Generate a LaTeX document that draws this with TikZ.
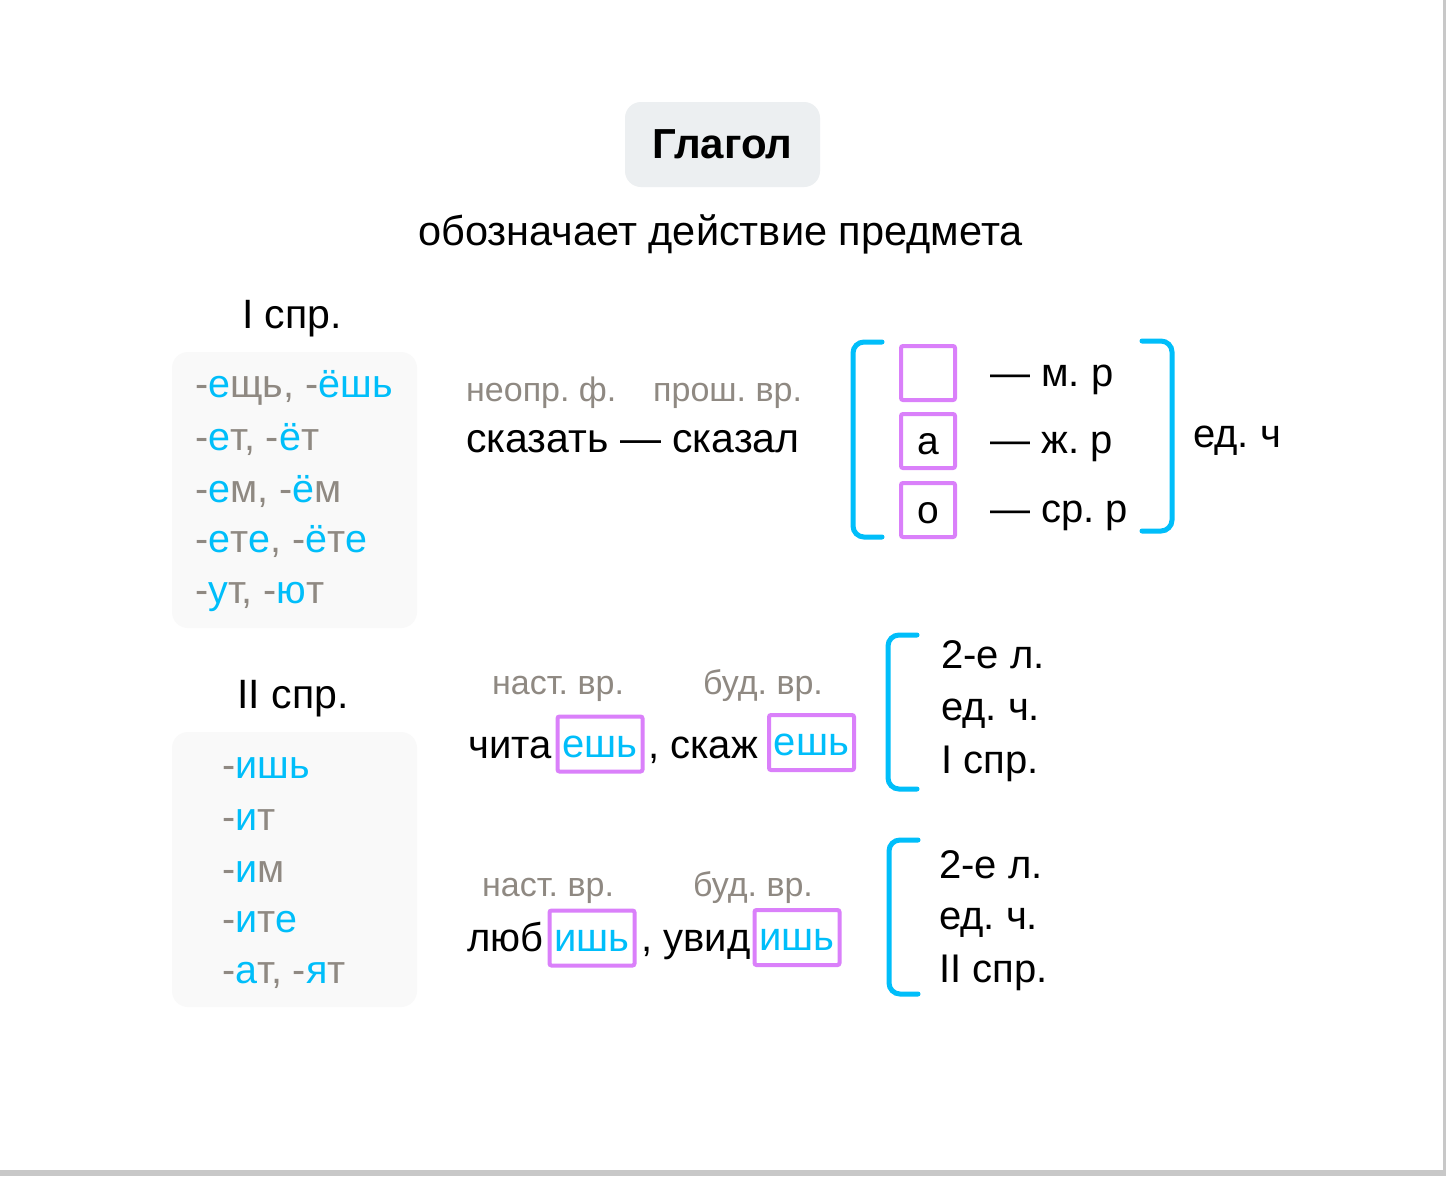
\documentclass[tikz,border=0pt]{standalone}
\usepackage{fontspec}
\setmainfont{Liberation Sans}
\AtBeginDocument{\frenchspacing}
\definecolor{cblue}{HTML}{00BEFA}
\definecolor{cgray}{HTML}{8F8982}
\definecolor{cmag}{HTML}{DA80FA}
\definecolor{titlebg}{HTML}{ECEFF1}
\definecolor{listbg}{HTML}{F9F9F9}
\definecolor{framegray}{HTML}{C8C8C8}
\newcommand{\cB}[1]{\textcolor{cblue}{#1}}
\newcommand{\cG}[1]{\textcolor{cgray}{#1}}
\newcommand{\lowr}[1]{\raisebox{-3pt}{#1}}
\tikzset{
  txt/.style={inner sep=0pt, anchor=mid west, font=\fontsize{40}{46}\selectfont},
  ctxt/.style={inner sep=0pt, anchor=mid, font=\fontsize{41}{46}\selectfont},
  small/.style={inner sep=0pt, anchor=mid west, text=cgray, font=\fontsize{34}{38}\selectfont},
  listline/.style={inner sep=0pt, anchor=mid west, text=cgray, font=\fontsize{39.5}{44}\selectfont},
  brk/.style={draw=cblue, line width=5pt, line cap=round, rounded corners=11pt},
  magbox/.style={draw=cmag, line width=4pt, rounded corners=2pt, inner sep=0pt, text height=20pt, text depth=0pt},
  endbox/.style={magbox, minimum width=85pt, minimum height=55pt, text=cblue, font=\fontsize{40}{46}\selectfont},
}
\begin{document}
\begin{tikzpicture}[x=1pt,y=-1pt]
\fill[white] (0,0) rectangle (1446,1176);
\useasboundingbox (0,0) rectangle (1446,1176);
\fill[framegray] (1443,0) rectangle (1446,1176);
\fill[framegray] (0,1170) rectangle (1446,1176);

% title
\node[fill=titlebg, rounded corners=16pt, minimum width=195pt, minimum height=85pt, inner sep=0pt,
      font=\fontsize{42}{46}\selectfont\bfseries] (title) at (722.5,144.5) {Глагол};
\node[ctxt, font=\fontsize{41.5}{46}\selectfont] (subtitle) at (720.5,243) {обозначает действие предмета};

% I conjugation
\node[ctxt] (conj1) at (292,326) {I спр.};
\node[fill=listbg, rounded corners=16pt, minimum width=245pt, minimum height=276pt, inner sep=0pt] (list1) at (294.5,490) {};
\node[listline] (l1a) at (195,395) {-\cB{е}щь, -\cB{ёшь}};
\node[listline] (l1b) at (195,448) {-\cB{е}т, -\cB{ё}т};
\node[listline] (l1c) at (195,500) {-\cB{е}м, -\cB{ё}м};
\node[listline] (l1d) at (195,550) {-\cB{е}т\cB{е}, -\cB{ё}т\cB{е}};
\node[listline] (l1e) at (195,601) {-\cB{у}т, -\cB{ю}т};

% II conjugation
\node[ctxt] (conj2) at (293,706) {II спр.};
\node[fill=listbg, rounded corners=16pt, minimum width=245pt, minimum height=275pt, inner sep=0pt] (list2) at (294.5,869.5) {};
\node[listline] (l2a) at (222,776) {-\cB{ишь}};
\node[listline] (l2b) at (222,828) {-\cB{и}т};
\node[listline] (l2c) at (222,880) {-\cB{и}м};
\node[listline] (l2d) at (222,930) {-\cB{и}т\cB{е}};
\node[listline] (l2e) at (222,981) {-\cB{а}т, -\cB{я}т};

% row 1 middle
\node[small] (neopr) at (466,399) {неопр. ф.};
\node[small] (prosh) at (653,399) {прош. вр.};
\node[txt, font=\fontsize{41}{46}\selectfont] (skazat) at (466,450) {сказать — сказал};

% gender bracket
\draw[brk] (882,342) -| (853,537) -- (882,537);
\node[magbox, minimum width=54pt, minimum height=54pt] (bm) at (928,373) {};
\node[magbox, minimum width=54pt, minimum height=54pt, font=\fontsize{39}{44}\selectfont] (ba) at (928,441) {\lowr{а}};
\node[magbox, minimum width=54pt, minimum height=54pt, font=\fontsize{39}{44}\selectfont] (bo) at (928,510) {\lowr{о}};
\node[txt] (gm) at (990,384) {— м. р};
\node[txt] (gf) at (990,451) {— ж. р};
\node[txt] (gn) at (990,520) {— ср. р};
\draw[brk] (1142,341) -| (1172,531) -- (1142,531);
\node[txt] (edch) at (1193,445) {ед. ч};

% row 2 middle
\node[small] (nast1) at (492,692) {наст. вр.};
\node[small] (bud1) at (703,692) {буд. вр.};
\node[txt] (chita) at (468,756) {чита};
\node[endbox] (e1) at (600,744) {\lowr{ешь}};
\node[txt] (skazh) at (648,756) {, скаж};
\node[endbox] (e2) at (811.5,742.5) {\lowr{ешь}};
\draw[brk] (917,635) -| (888,789) -- (917,789);
\node[txt] (r2a) at (941,666) {2-е л.};
\node[txt] (r2b) at (941,718) {ед. ч.};
\node[txt] (r2c) at (941,771) {I спр.};

% row 3 middle
\node[small] (nast2) at (482,894) {наст. вр.};
\node[small] (bud2) at (693,894) {буд. вр.};
\node[txt] (lyub) at (467,949) {люб};
\node[endbox] (i1) at (592,938) {\lowr{ишь}};
\node[txt] (uvid) at (641,949) {, увид};
\node[endbox] (i2) at (797,937.5) {\lowr{ишь}};
\draw[brk] (918,840) -| (889,994) -- (918,994);
\node[txt] (r3a) at (939,876) {2-е л.};
\node[txt] (r3b) at (939,927) {ед. ч.};
\node[txt] (r3c) at (939,980) {II спр.};
\end{tikzpicture}
\end{document}
